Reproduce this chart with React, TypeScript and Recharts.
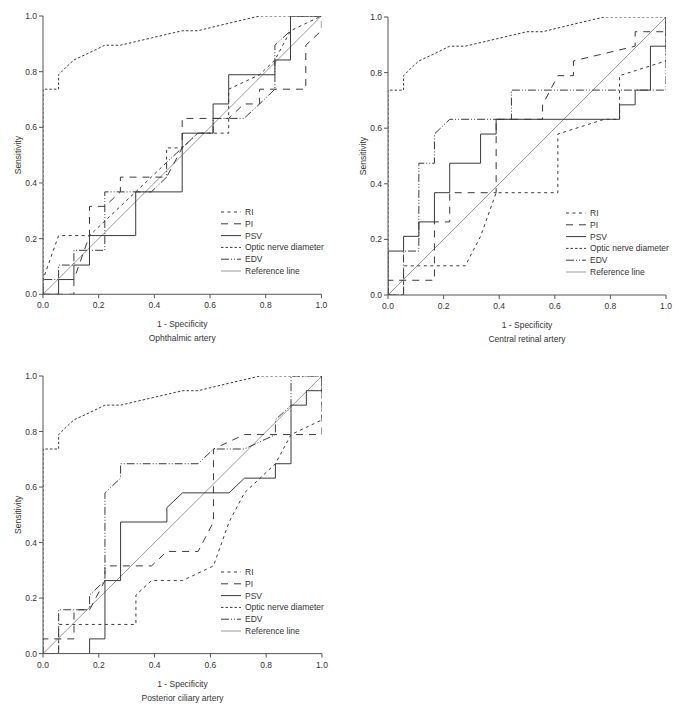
import React from 'react';
import { LineChart, Line, XAxis, YAxis } from 'recharts';

type Pair = [number, number];

// ---------- data ----------
const axisTicks = [0, 0.2, 0.4, 0.6, 0.8, 1.0];
const legendNames = ['RI', 'PI', 'PSV', 'Optic nerve diameter', 'EDV', 'Reference line'];
const panelTitles = ['Ophthalmic artery', 'Central retinal artery', 'Posterior ciliary artery'];

const referenceLine: Pair[] = [[0, 0], [1, 1]];

const opticNerve: Pair[] = [
  [0, 0], [0, 0.737], [0.056, 0.737], [0.056, 0.789], [0.083, 0.816], [0.111, 0.842],
  [0.167, 0.868], [0.222, 0.895], [0.278, 0.895], [0.389, 0.921], [0.5, 0.947],
  [0.556, 0.947], [0.667, 0.974], [0.778, 1], [1, 1],
];

// Ophthalmic artery
const ophRI: Pair[] = [
  [0, 0], [0, 0.053], [0.056, 0.211], [0.167, 0.211], [0.389, 0.421], [0.444, 0.474],
  [0.444, 0.526], [0.5, 0.526], [0.556, 0.579], [0.667, 0.579], [0.667, 0.737],
  [0.778, 0.789], [0.833, 0.842], [0.889, 0.947], [1, 1],
];
const ophPI: Pair[] = [
  [0, 0], [0.111, 0], [0.111, 0.053], [0.167, 0.211], [0.167, 0.316], [0.222, 0.316],
  [0.278, 0.368], [0.278, 0.421], [0.444, 0.421], [0.5, 0.526], [0.5, 0.632],
  [0.667, 0.632], [0.722, 0.684], [0.778, 0.684], [0.778, 0.737], [0.944, 0.737],
  [0.944, 0.895], [1, 0.947], [1, 1],
];
const ophPSV: Pair[] = [
  [0, 0], [0.056, 0], [0.056, 0.053], [0.111, 0.053], [0.111, 0.105], [0.167, 0.105],
  [0.167, 0.211], [0.333, 0.211], [0.333, 0.368], [0.5, 0.368], [0.5, 0.579],
  [0.611, 0.579], [0.611, 0.684], [0.667, 0.684], [0.667, 0.789], [0.833, 0.789],
  [0.833, 0.842], [0.889, 0.842], [0.889, 1], [1, 1],
];
const ophEDV: Pair[] = [
  [0, 0], [0, 0.053], [0.056, 0.053], [0.056, 0.105], [0.111, 0.105], [0.111, 0.158],
  [0.222, 0.158], [0.222, 0.368], [0.389, 0.368], [0.444, 0.421], [0.444, 0.474],
  [0.5, 0.526], [0.556, 0.579], [0.611, 0.579], [0.611, 0.632], [0.722, 0.632],
  [0.778, 0.684], [0.833, 0.737], [0.833, 0.895], [0.889, 0.947], [0.889, 1], [1, 1],
];

// Central retinal artery
const crRI: Pair[] = [
  [0, 0], [0.056, 0], [0.056, 0.105], [0.278, 0.105], [0.333, 0.211], [0.389, 0.368],
  [0.611, 0.368], [0.611, 0.579], [0.778, 0.632], [0.833, 0.632], [0.833, 0.789],
  [1, 0.842], [1, 1],
];
const crPI: Pair[] = [
  [0, 0], [0, 0.053], [0.167, 0.053], [0.167, 0.263], [0.222, 0.263], [0.222, 0.368],
  [0.389, 0.368], [0.389, 0.632], [0.556, 0.632], [0.556, 0.684], [0.611, 0.789],
  [0.667, 0.789], [0.667, 0.842], [0.889, 0.895], [0.889, 0.947], [1, 0.947], [1, 1],
];
const crPSV: Pair[] = [
  [0, 0], [0, 0.158], [0.056, 0.158], [0.056, 0.211], [0.111, 0.211], [0.111, 0.263],
  [0.167, 0.263], [0.167, 0.368], [0.222, 0.368], [0.222, 0.474], [0.333, 0.474],
  [0.333, 0.579], [0.389, 0.579], [0.389, 0.632], [0.833, 0.632], [0.833, 0.684],
  [0.889, 0.684], [0.889, 0.737], [0.944, 0.737], [0.944, 0.895], [1, 0.895], [1, 1],
];
const crEDV: Pair[] = [
  [0, 0], [0.056, 0], [0.056, 0.158], [0.111, 0.158], [0.111, 0.474], [0.167, 0.474],
  [0.167, 0.579], [0.222, 0.632], [0.444, 0.632], [0.444, 0.737], [1, 0.737], [1, 1],
];

// Posterior ciliary artery
const pcRI: Pair[] = [
  [0, 0], [0.056, 0], [0.056, 0.105], [0.333, 0.105], [0.333, 0.211], [0.389, 0.263],
  [0.5, 0.263], [0.611, 0.316], [0.667, 0.474], [0.722, 0.579], [0.833, 0.684],
  [0.889, 0.789], [1, 0.842], [1, 1],
];
const pcPI: Pair[] = [
  [0, 0], [0, 0.053], [0.111, 0.053], [0.111, 0.158], [0.167, 0.158], [0.222, 0.263],
  [0.222, 0.316], [0.389, 0.316], [0.444, 0.368], [0.556, 0.368], [0.611, 0.474],
  [0.611, 0.737], [0.722, 0.789], [1, 0.789], [1, 1],
];
const pcPSV: Pair[] = [
  [0, 0], [0.167, 0], [0.167, 0.053], [0.222, 0.053], [0.222, 0.263], [0.278, 0.263],
  [0.278, 0.474], [0.444, 0.474], [0.444, 0.526], [0.5, 0.579], [0.667, 0.579],
  [0.722, 0.632], [0.833, 0.632], [0.833, 0.684], [0.889, 0.684], [0.889, 0.895],
  [0.944, 0.895], [0.944, 0.947], [1, 0.947], [1, 1],
];
const pcEDV: Pair[] = [
  [0, 0], [0.056, 0], [0.056, 0.158], [0.167, 0.158], [0.167, 0.211], [0.222, 0.263],
  [0.222, 0.579], [0.278, 0.632], [0.278, 0.684], [0.556, 0.684], [0.611, 0.737],
  [0.722, 0.737], [0.833, 0.789], [0.833, 0.842], [0.889, 0.895], [0.889, 1], [1, 1],
];

// ---------- styles ----------
const FONT = '"Liberation Sans", Arial, Helvetica, sans-serif';
const FS = 8.5;
const TEXT = '#333';
const AXIS = '#555';
const CURVE = '#3a3a3a';
const REF = '#9a9a9a';

const styles = [
  { stroke: CURVE, dash: '3 3.5' },        // RI
  { stroke: CURVE, dash: '7 6' },          // PI
  { stroke: CURVE, dash: undefined },      // PSV
  { stroke: CURVE, dash: '2.5 2' },        // Optic nerve diameter
  { stroke: CURVE, dash: '8 2 1 2 1 2' },  // EDV
  { stroke: REF, dash: undefined },        // Reference line
];

const toPts = (arr: Pair[]) => arr.map(([x, y]) => ({ x, y }));
const fmt = (v: number) => v.toFixed(1);

const ML = 43, MT = 16, MR = 18, MB = 51;

const makeXLabel = (sub: string) => (props: any) => {
  const vb = props.viewBox || {};
  const cx = vb.x + vb.width / 2;
  const y0 = vb.y;
  return (
    <g>
      <text x={cx} y={y0 + 33} textAnchor="middle" fontSize={FS} fill={TEXT} fontFamily={FONT}>1 - Specificity</text>
      <text x={cx} y={y0 + 47} textAnchor="middle" fontSize={FS} fill={TEXT} fontFamily={FONT}>{sub}</text>
    </g>
  );
};

const yLabel = (props: any) => {
  const vb = props.viewBox || {};
  const x = vb.x + 18;
  const y = vb.y + vb.height / 2;
  return (
    <text x={x} y={y} transform={`rotate(-90, ${x}, ${y})`} textAnchor="middle" fontSize={FS} fill={TEXT} fontFamily={FONT}>Sensitivity</text>
  );
};

type PanelProps = {
  px: number; py: number; w: number; h: number;
  series: Pair[][]; sub: string;
};

const Panel = ({ px, py, w, h, series, sub }: PanelProps) => {
  const W = w + ML + MR;
  const H = h + MT + MB;
  const all = [...series.slice(0, 5), referenceLine];
  const order = [5, 0, 1, 2, 3, 4];
  return (
    <div style={{ position: 'absolute', left: px - ML, top: py - MT, width: W, height: H }}>
      <LineChart width={W} height={H} margin={{ top: MT, right: MR, left: 3, bottom: 0 }}>
        <XAxis
          type="number" dataKey="x" domain={[0, 1]} ticks={axisTicks} interval={0}
          tickFormatter={fmt} height={MB} tickSize={4} tickMargin={4}
          stroke={AXIS} tick={{ fontSize: FS, fill: TEXT, fontFamily: FONT }}
          allowDataOverflow label={makeXLabel(sub)}
        />
        <YAxis
          type="number" domain={[0, 1]} ticks={axisTicks} interval={0}
          tickFormatter={fmt} width={40} tickSize={4} tickMargin={2}
          stroke={AXIS} tick={{ fontSize: FS, fill: TEXT, fontFamily: FONT }}
          allowDataOverflow label={yLabel}
        />
        {order.map((i) => (
          <Line
            key={legendNames[i]}
            name={legendNames[i]}
            data={toPts(all[i])}
            dataKey="y"
            type="linear"
            stroke={styles[i].stroke}
            strokeWidth={1}
            strokeDasharray={styles[i].dash}
            dot={false}
            activeDot={false}
            isAnimationActive={false}
          />
        ))}
      </LineChart>
      <svg width={W} height={H} style={{ position: 'absolute', left: 0, top: 0, pointerEvents: 'none' }}>
        {legendNames.map((name, i) => {
          const y = MT + 196 + i * 11.8;
          return (
            <g key={name}>
              <line x1={ML + 178} x2={ML + 198} y1={y} y2={y} stroke={styles[i].stroke} strokeWidth={1} strokeDasharray={styles[i].dash} />
              <text x={ML + 202} y={y + 3} fontSize={FS} fill={TEXT} fontFamily={FONT}>{name}</text>
            </g>
          );
        })}
      </svg>
    </div>
  );
};

export default function App() {
  return (
    <div style={{ position: 'absolute', left: 0, top: 0, width: 679, height: 707, background: '#fff', overflow: 'hidden' }}>
      <Panel px={43.3} py={16} w={278.4} h={278.3} series={[ophRI, ophPI, ophPSV, opticNerve, ophEDV]} sub={panelTitles[0]} />
      <Panel px={387.7} py={16.7} w={278} h={278} series={[crRI, crPI, crPSV, opticNerve, crEDV]} sub={panelTitles[1]} />
      <Panel px={43.3} py={375.7} w={279} h={277.6} series={[pcRI, pcPI, pcPSV, opticNerve, pcEDV]} sub={panelTitles[2]} />
    </div>
  );
}
